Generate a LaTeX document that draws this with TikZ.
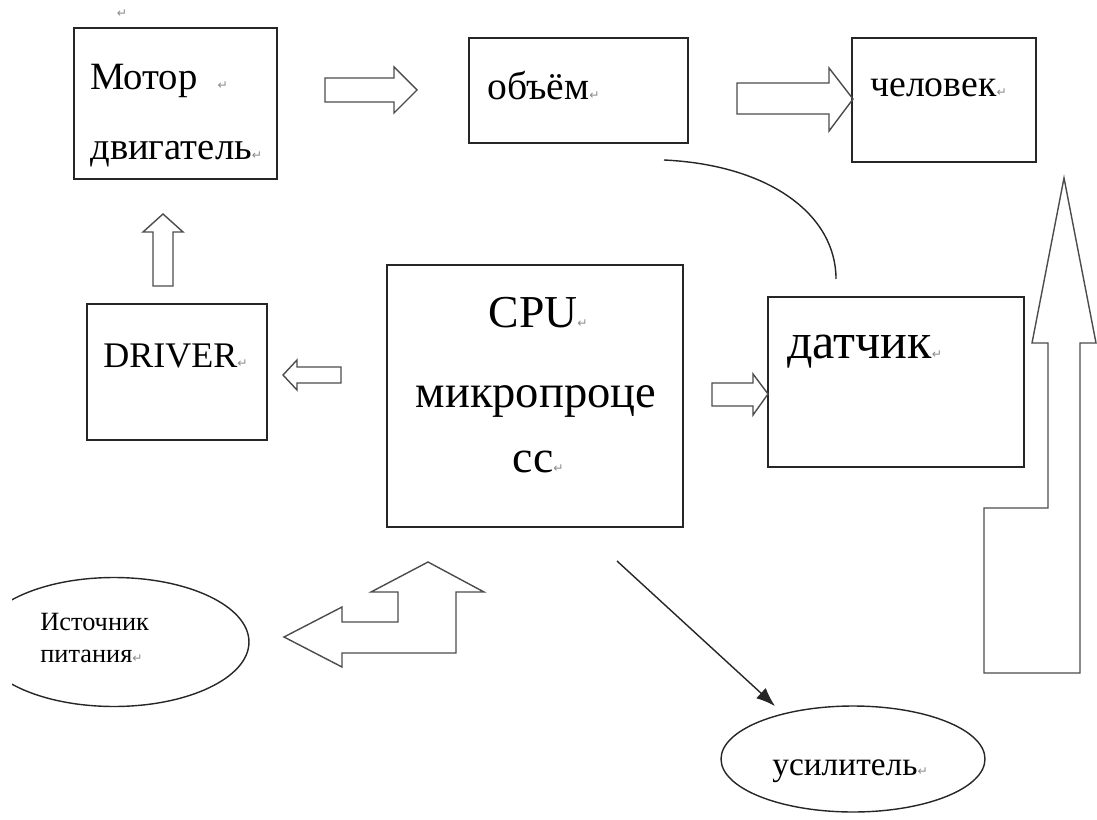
\documentclass[tikz,border=0pt]{standalone}
\usepackage{fontspec}
\setmainfont{Liberation Serif}
\newfontfamily\symfont{DejaVu Sans}
\usetikzlibrary{arrows.meta,shapes.geometric}

\newcommand{\pmark}{{\symfont\fontsize{7}{7}\selectfont\textcolor{black!45}{↵}}}

\tikzset{
  box/.style={draw=black!85, line width=0.8pt, inner sep=0pt},
  oval/.style={ellipse, draw=black!85, line width=0.8pt, inner sep=0pt},
  blockarrow/.style={draw=black!70, line width=0.8pt, line join=miter},
  txt/.style={inner sep=0pt, anchor=base west},
  ctxt/.style={inner sep=0pt, anchor=base},
}

\begin{document}
\begin{tikzpicture}[x=0.02cm, y=0.02cm]
    \useasboundingbox (0,0) rectangle (1097,-820);
    % boxes
    \node[box, minimum width=4.06cm, minimum height=3.02cm] (motor) at (175.5,-103.5) {};
    \node[box, minimum width=4.38cm, minimum height=2.10cm] (volume) at (578.5,-90.5) {};
    \node[box, minimum width=3.68cm, minimum height=2.48cm] (human) at (944,-100) {};
    \node[box, minimum width=3.60cm, minimum height=2.72cm] (driver) at (177,-372) {};
    \node[box, minimum width=5.92cm, minimum height=5.24cm] (cpu) at (535,-396) {};
    \node[box, minimum width=5.12cm, minimum height=3.40cm] (sensor) at (896,-382) {};
    \begin{scope}
        \clip (12,0) rectangle (1097,-820);
        \node[oval, minimum width=5.40cm, minimum height=2.58cm] (power) at (114,-642) {};
    \end{scope}
    \node[oval, minimum width=5.28cm, minimum height=2.12cm] (amp) at (853,-759) {};

    % texts
    \node[ctxt] (topmark) at (122,-18) {\pmark};
    \node[txt, font=\fontsize{22}{22}\selectfont] (motortxt) at (90,-90) {Мотор\hspace{0.4cm}\pmark};
    \node[txt, font=\fontsize{22}{22}\selectfont] (enginetxt) at (90,-160) {двигатель\pmark};
    \node[txt, font=\fontsize{22.5}{22}\selectfont] (volumetxt) at (487,-100) {объём\pmark};
    \node[txt, font=\fontsize{21.5}{21}\selectfont] (humantxt) at (870,-97) {человек\pmark};
    \node[txt, font=\fontsize{20.5}{20}\selectfont] (drivertxt) at (103,-367) {DRIVER\pmark};
    \node[ctxt, font=\fontsize{26}{26}\selectfont] (cputxt) at (533,-328) {CPU\rlap{\pmark}};
    \node[ctxt, font=\fontsize{26.5}{26}\selectfont] (microtxt) at (536,-407) {микропроце};
    \node[ctxt, font=\fontsize{26}{26}\selectfont] (sstxt) at (533,-472) {сс\rlap{\pmark}};
    \node[txt, font=\fontsize{28.5}{28}\selectfont] (sensortxt) at (787,-358) {датчик\pmark};
    \node[txt, font=\fontsize{15}{15}\selectfont] (powertxt) at (40,-630) {Источник};
    \node[txt, font=\fontsize{15}{15}\selectfont] (powertxtb) at (40,-662) {питания\pmark};
    \node[txt, font=\fontsize{19}{19}\selectfont] (amptxt) at (772,-775) {усилитель\pmark};

    % block arrows
    \draw[blockarrow] (325,-78) -- (394,-78) -- (394,-67) -- (417,-90) -- (394,-113) -- (394,-102) -- (325,-102) -- cycle;
    \draw[blockarrow] (737,-83) -- (829,-83) -- (829,-68) -- (853,-99) -- (829,-131) -- (829,-114) -- (737,-114) -- cycle;
    \draw[blockarrow] (153,-286) -- (153,-232) -- (143,-232) -- (163,-214) -- (183,-232) -- (173,-232) -- (173,-286) -- cycle;
    \draw[blockarrow] (341,-367) -- (297,-367) -- (297,-360) -- (283,-375) -- (297,-390) -- (297,-383) -- (341,-383) -- cycle;
    \draw[blockarrow] (712,-383) -- (753,-383) -- (753,-374) -- (768,-394) -- (753,-415) -- (753,-406) -- (712,-406) -- cycle;
    \draw[blockarrow] (984,-673) -- (1080,-673) -- (1080,-343) -- (1096,-343) -- (1064,-178) -- (1032,-343)
        -- (1048,-343) -- (1048,-508) -- (984,-508) -- cycle;
    \draw[blockarrow] (428,-562) -- (484,-592) -- (456,-592) -- (456,-653) -- (342,-653) -- (342,-667) -- (284,-637)
        -- (342,-607) -- (342,-622) -- (398,-622) -- (398,-592) -- (371,-592) -- cycle;

    % connectors
    \coordinate (arcstart) at (664,-160);
    \coordinate (arcend) at (836,-279);
    \draw[black!85, line width=0.8pt] (arcstart) .. controls (770,-165) and (836,-215) .. (arcend);
    \coordinate (diagstart) at (617,-561);
    \coordinate (diagend) at (775,-706);
    \draw[black!85, line width=0.8pt, -{Latex[length=0.38cm, width=0.28cm]}] (diagstart) -- (diagend);
\end{tikzpicture}
\end{document}
